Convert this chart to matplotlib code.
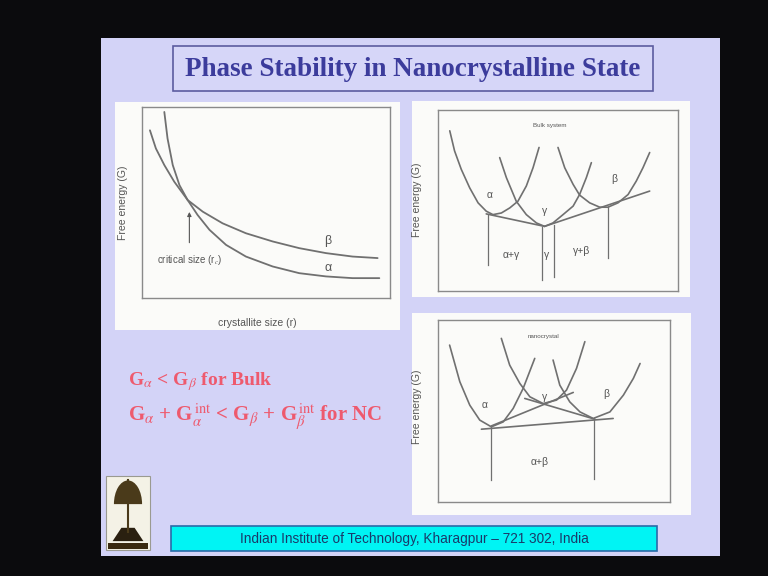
import matplotlib
matplotlib.use("Agg")
import matplotlib.pyplot as plt
from matplotlib.patches import Rectangle, Wedge, Polygon

plt.rcParams['mathtext.fontset'] = 'stix'

# ---- left panel: free energy vs crystallite size ----
size_alpha = [0.90, 1.03, 1.24, 1.51, 1.84, 2.24, 2.72, 3.39, 4.19, 5.27, 6.34, 7.42, 8.49, 9.57]
g_alpha = [9.74, 8.35, 6.96, 5.91, 5.13, 4.35, 3.57, 2.78, 2.17, 1.65, 1.30, 1.13, 1.04, 1.04]
size_beta = [0.32, 0.56, 0.90, 1.30, 1.84, 2.45, 3.25, 4.19, 5.27, 6.34, 7.42, 8.49, 9.50]
g_beta = [8.78, 7.83, 6.96, 6.09, 5.13, 4.52, 3.91, 3.39, 2.96, 2.61, 2.35, 2.17, 2.09]

# ---- top right: bulk system ----
bulk_ax = [0.49, 0.69, 0.97, 1.32, 1.67, 2.01, 2.29, 2.64, 2.99, 3.33, 3.68, 3.96, 4.21]
bulk_ay = [8.85, 7.74, 6.72, 5.70, 4.87, 4.41, 4.22, 4.31, 4.59, 4.96, 5.80, 6.81, 7.93]
bulk_gx = [2.57, 2.85, 3.26, 3.68, 4.10, 4.44, 4.79, 5.21, 5.63, 5.90, 6.18, 6.39]
bulk_gy = [7.37, 6.26, 4.96, 4.22, 3.76, 3.57, 3.76, 4.22, 4.69, 5.33, 6.26, 7.09]
bulk_bx = [5.00, 5.28, 5.63, 5.90, 6.32, 6.74, 7.08, 7.50, 7.92, 8.26, 8.54, 8.82]
bulk_by = [7.93, 6.81, 5.89, 5.30, 4.87, 4.63, 4.63, 4.87, 5.33, 6.07, 6.81, 7.65]
bulk_tangents = [([2.01, 4.44], [4.26, 3.57]), ([4.44, 8.82], [3.57, 5.52])]
bulk_verticals = [(2.08, 4.22, 1.44), (4.35, 3.54, 0.61), (4.82, 3.67, 0.80), (7.08, 4.63, 1.81)]

# ---- bottom right: nanocrystal ----
nano_ax = [0.50, 0.94, 1.37, 1.80, 2.30, 2.81, 3.24, 3.67, 4.17]
nano_ay = [8.62, 6.61, 5.32, 4.50, 4.13, 4.40, 5.14, 6.24, 7.89]
nano_gx = [2.73, 3.09, 3.53, 3.96, 4.53, 5.11, 5.54, 5.97, 6.33]
nano_gy = [8.99, 7.52, 6.51, 5.78, 5.41, 5.60, 6.15, 7.34, 8.81]
nano_bx = [4.96, 5.25, 5.68, 6.12, 6.69, 7.41, 7.99, 8.42, 8.71]
nano_by = [7.80, 6.42, 5.50, 4.95, 4.59, 4.95, 5.87, 6.79, 7.61]
nano_tangents = [([1.87, 7.55], [4.00, 4.59]), ([2.30, 5.83], [4.18, 6.02]), ([3.74, 6.76], [5.69, 4.55])]
nano_verticals = [(2.27, 4.13, 1.19), (6.73, 4.59, 1.28)]

W, H = 768, 576
LINE = '#707070'
TXT = '#555555'
SANS = ['Liberation Sans', 'DejaVu Sans']


def box(x0, y0, x1, y1):
    # pixel box (top-left origin) -> figure fraction rect
    return [x0 / W, 1 - y1 / H, (x1 - x0) / W, (y1 - y0) / H]


def rect(x0, y0, x1, y1, **kw):
    l, b, w, h = box(x0, y0, x1, y1)
    fig.patches.append(Rectangle((l, b), w, h, transform=fig.transFigure, zorder=-5, **kw))


def frame_axes(x0, y0, x1, y1):
    ax = fig.add_axes(box(x0, y0, x1, y1))
    ax.set_xlim(0, 10)
    ax.set_ylim(0, 10)
    ax.set_xticks([])
    ax.set_yticks([])
    ax.set_facecolor('none')
    for s in ax.spines.values():
        s.set_color('#8a8a8a')
        s.set_linewidth(1.0)
    return ax


def curve(ax, xs, ys, lw=1.2):
    ax.plot(xs, ys, color=LINE, lw=lw, solid_joinstyle='round', solid_capstyle='round')


fig = plt.figure(figsize=(7.68, 5.76), dpi=100)
fig.patch.set_facecolor('#0b0b0d')

# slide and boxes
rect(101, 38, 720, 556, facecolor='#d3d3f7', edgecolor='none')
rect(173, 46, 653, 91, facecolor='#d6d6f8', edgecolor='#5c5ca0', linewidth=1.2)
fig.text(413 / W, 1 - 69 / H, 'Phase Stability in Nanocrystalline State', ha='center', va='center',
         fontsize=19.5, fontweight='bold', family='Liberation Serif', color='#3c3c9c')
rect(115, 102, 400, 330, facecolor='#fbfbf9', edgecolor='none')
rect(412, 101, 690, 297, facecolor='#fbfbf9', edgecolor='none')
rect(412, 313, 691, 515, facecolor='#fbfbf9', edgecolor='none')
rect(171, 526, 657, 551, facecolor='#00f4f4', edgecolor='#2a6aa8', linewidth=1.2)
fig.text(414 / W, 1 - 538.5 / H, 'Indian Institute of Technology, Kharagpur \u2013 721 302, India',
         ha='center', va='center', fontsize=9.8, family='Liberation Sans', color='#1a3a6a')

# red relations
fig.text(128 / W, 1 - 385 / H, r'G$_{\alpha}$ < G$_{\beta}$ for Bulk', fontsize=14,
         fontweight='bold', family='Liberation Serif', color='#ee5a6e')
fig.text(128 / W, 1 - 422 / H,
         r'G$_{\alpha}$ + G$_{\alpha}^{\,\mathrm{int}}$ < G$_{\beta}$ + G$_{\beta}^{\,\mathrm{int}}$ for NC',
         fontsize=15, fontweight='bold', family='Liberation Serif', color='#ee5a6e')

# logo
rect(106, 476, 150, 550, facecolor='#f4f2e6', edgecolor='#9a9a90', linewidth=0.8)
lg = fig.add_axes(box(106, 476, 150, 550))
lg.set_xlim(0, 1)
lg.set_ylim(0, 1)
lg.axis('off')
lg.add_patch(Wedge((0.5, 0.62), 0.32, 0, 180, facecolor='#4a3a1a'))
lg.plot([0.5, 0.5], [0.25, 0.95], color='#4a3a1a', lw=1.5)
lg.add_patch(Polygon([[0.15, 0.12], [0.85, 0.12], [0.65, 0.3], [0.35, 0.3]], facecolor='#2a2010'))
lg.add_patch(Rectangle((0.05, 0.02), 0.9, 0.07, facecolor='#3a2a10'))

# left chart
ax1 = frame_axes(142, 107, 390, 298)
curve(ax1, size_alpha, g_alpha, 1.3)
curve(ax1, size_beta, g_beta, 1.3)
ax1.text(7.49, 2.96, '\u03b2', fontsize=9, color=TXT, ha='center', va='center', family=SANS)
ax1.text(7.49, 1.57, '\u03b1', fontsize=9, color=TXT, ha='center', va='center', family=SANS)
ax1.annotate('', xy=(1.91, 4.65), xytext=(1.91, 2.75),
             arrowprops=dict(arrowstyle='-|>', color=TXT, lw=0.8, mutation_scale=6))
ax1.text(1.91, 2.0, r'critical size (r$_c$)', fontsize=7, color=TXT, ha='center', va='center',
         family=SANS)
fig.text(257 / W, 1 - 323 / H, 'crystallite size (r)', fontsize=7.5, color=TXT, ha='center',
         va='center', family=SANS)
fig.text(123 / W, 1 - 203 / H, 'Free energy (G)', fontsize=7.5, color=TXT, ha='center', va='center',
         rotation=90, family=SANS)

# top right chart
ax2 = frame_axes(438, 110, 678, 291)
for xs, ys in [(bulk_ax, bulk_ay), (bulk_gx, bulk_gy), (bulk_bx, bulk_by)] + bulk_tangents:
    curve(ax2, xs, ys)
for x, ytop, ybot in bulk_verticals:
    ax2.plot([x, x], [ytop, ybot], color=LINE, lw=0.9)
for x, y, s in [(2.15, 5.30, '\u03b1'), (4.44, 4.41, '\u03b3'), (7.36, 6.17, '\u03b2'),
                (3.06, 2.0, '\u03b1+\u03b3'), (4.51, 2.0, '\u03b3'), (5.97, 2.19, '\u03b3+\u03b2')]:
    ax2.text(x, y, s, fontsize=7.5, color=TXT, ha='center', va='center', family=SANS)
ax2.text(4.65, 9.13, 'Bulk system', fontsize=4.5, color=TXT, ha='center', va='center', family=SANS)
fig.text(417 / W, 1 - 200 / H, 'Free energy (G)', fontsize=7.5, color=TXT, ha='center', va='center',
         rotation=90, family=SANS)

# bottom right chart
ax3 = frame_axes(438, 320, 670, 502)
for xs, ys in [(nano_ax, nano_ay), (nano_gx, nano_gy), (nano_bx, nano_by)] + nano_tangents:
    curve(ax3, xs, ys)
for x, ytop, ybot in nano_verticals:
    ax3.plot([x, x], [ytop, ybot], color=LINE, lw=0.9)
for x, y, s in [(2.01, 5.32, '\u03b1'), (4.60, 5.78, '\u03b3'), (7.27, 5.96, '\u03b2'),
                (4.39, 2.20, '\u03b1+\u03b2')]:
    ax3.text(x, y, s, fontsize=7.5, color=TXT, ha='center', va='center', family=SANS)
ax3.text(4.53, 9.08, 'nanocrystal', fontsize=4.5, color=TXT, ha='center', va='center', family=SANS)
fig.text(417 / W, 1 - 407 / H, 'Free energy (G)', fontsize=7.5, color=TXT, ha='center', va='center',
         rotation=90, family=SANS)

fig.savefig('out.png', dpi=100, facecolor=fig.get_facecolor())
